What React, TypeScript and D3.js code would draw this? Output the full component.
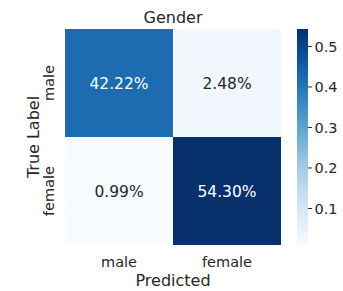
import React from "react";
import * as d3 from "d3";

const title = "Gender";
const categories = ["male", "female"];
const values = [
  [0.4222, 0.0248],
  [0.0099, 0.543],
];
const cbTicks = [0.1, 0.2, 0.3, 0.4, 0.5];
const xLabel = "Predicted";
const yLabel = "True Label";

export default function App() {
  const W = 343, H = 291;
  const left = 65, top = 29, size = 216;
  const cbX = 297, cbW = 11;
  const flat = values.flat();
  const vmin = d3.min(flat)!, vmax = d3.max(flat)!;
  const color = d3.scaleSequential(d3.interpolateBlues).domain([vmin, vmax]);
  const x = d3.scaleBand<string>().domain(categories).range([left, left + size]);
  const y = d3.scaleBand<string>().domain(categories).range([top, top + size]);
  const cbY = d3.scaleLinear().domain([vmin, vmax]).range([top + size, top]);
  const font = "'DejaVu Sans', sans-serif";
  const txt = "#262626";
  const stops = d3.range(0, 1.0001, 0.05);
  return (
    <svg width={W} height={H} style={{ position: "absolute", left: 0, top: 0, background: "#fff" }} fontFamily={font}>
      <defs>
        <linearGradient id="cb" x1="0" y1="1" x2="0" y2="0">
          {stops.map((s) => (
            <stop key={s} offset={s} stopColor={color(vmin + s * (vmax - vmin))} />
          ))}
        </linearGradient>
      </defs>
      <text x={left + size / 2} y={22.5} textAnchor="middle" fontSize={16} fill={txt}>{title}</text>
      {values.map((row, i) =>
        row.map((v, j) => {
          const norm = (v - vmin) / (vmax - vmin);
          return (
            <g key={`${i}-${j}`}>
              <rect x={x(categories[j])} y={y(categories[i])} width={x.bandwidth()} height={y.bandwidth()} fill={color(v)} />
              <text
                x={x(categories[j])! + x.bandwidth() / 2}
                y={y(categories[i])! + y.bandwidth() / 2}
                dy="0.36em"
                textAnchor="middle"
                fontSize={15.5}
                fill={norm > 0.5 ? "#ffffff" : txt}
              >
                {(v * 100).toFixed(2) + "%"}
              </text>
            </g>
          );
        })
      )}
      {categories.map((c) => (
        <text key={"x" + c} x={x(c)! + x.bandwidth() / 2} y={267} textAnchor="middle" fontSize={14.5} fill={txt}>{c}</text>
      ))}
      {categories.map((c) => (
        <text key={"y" + c} transform={`translate(${54},${y(c)! + y.bandwidth() / 2}) rotate(-90)`} textAnchor="middle" fontSize={14.5} fill={txt}>{c}</text>
      ))}
      <text x={left + size / 2} y={286} textAnchor="middle" fontSize={16} fill={txt}>{xLabel}</text>
      <text transform={`translate(${39},${top + size / 2}) rotate(-90)`} textAnchor="middle" fontSize={16} fill={txt}>{yLabel}</text>
      <rect x={cbX} y={top} width={cbW} height={size} fill="url(#cb)" />
      {cbTicks.map((t) => (
        <g key={t} transform={`translate(${cbX + cbW},${cbY(t)})`}>
          <line x1={0} x2={4} stroke={txt} strokeWidth={1} />
          <text x={6.5} dy="0.36em" fontSize={14.5} fill={txt}>{t.toFixed(1)}</text>
        </g>
      ))}
    </svg>
  );
}
